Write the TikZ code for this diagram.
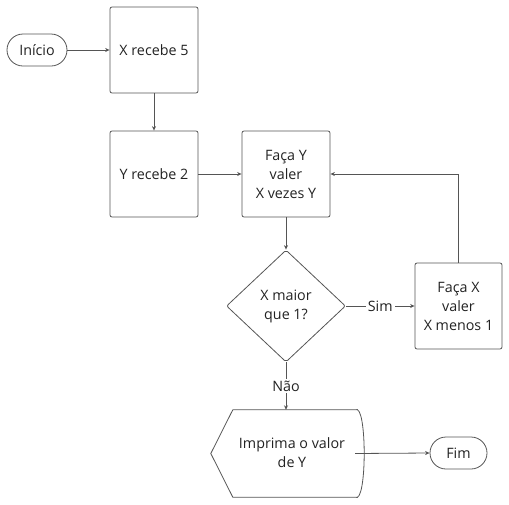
\documentclass[tikz,border=0pt]{standalone}
\usepackage{fontspec}
\setmainfont{Open Sans}
\usetikzlibrary{shapes.geometric,arrows.meta,positioning}
\definecolor{ln}{HTML}{555555}
\definecolor{tx}{HTML}{222222}
\begin{document}
\begin{tikzpicture}[x=1pt,y=-1pt,
  every node/.style={font=\fontsize{14.3}{19}\selectfont, text=tx},
  box/.style={draw=ln, line width=0.8pt, rounded corners=2pt, minimum width=88pt, minimum height=86pt, align=center, inner sep=2pt},
  dec/.style={draw=ln, line width=0.8pt, diamond, minimum width=119pt, minimum height=112pt, align=center, inner sep=0pt, rounded corners=2pt},
  conn/.style={draw=ln, line width=0.8pt, -{Stealth[length=4.5pt,width=4pt]}},
  lbl/.style={fill=white, inner sep=2pt}]
\useasboundingbox (0,0) rectangle (509,504);
\node[draw=ln, line width=0.8pt, rounded corners=16pt, minimum width=60pt, minimum height=32pt] (ini) at (37,50) {Início};
\node[box] (x5) at (154,50) {X recebe 5};
\node[box] (y2) at (154,174) {Y recebe 2};
\node[box] (fy) at (286,174) {Faça Y\\valer\\X vezes Y};
\node[dec] (d) at (286,306) {X maior\\que 1?};
\node[box, minimum width=87pt] (fx) at (458.5,306) {Faça X\\valer\\X menos 1};
\node[minimum width=154pt, minimum height=87pt, inner sep=0pt] (pr) at (288,453.5) {};
\node[align=center] (prt) at (292,453) {Imprima o valor\\de Y};
\draw[ln, line width=0.8pt] (pr.west) -- ([xshift=22pt]pr.north west) -- ([xshift=-10pt]pr.north east)
  .. controls ([xshift=2pt,yshift=8pt]pr.north east) and ([xshift=2pt,yshift=-8pt]pr.south east) .. ([xshift=-10pt]pr.south east)
  -- ([xshift=22pt]pr.south west) -- cycle;
\node[draw=ln, line width=0.8pt, rounded corners=16pt, minimum width=57pt, minimum height=32pt] (fim) at (458.5,453) {Fim};
\coordinate (c1) at (fx.north |- fy.east);
\draw[conn] (ini) -- (x5);
\draw[conn] (x5) -- (y2);
\draw[conn] (y2) -- (fy);
\draw[conn] (fy) -- (d);
\draw[conn] (d.east) -- node[lbl] {Sim} (fx.west);
\draw[conn] (fx.north) -- (c1) -- (fy.east);
\draw[conn] (d.south) -- node[lbl, pos=0.5] {Não} (d.south |- pr.north);
\draw[conn] ([xshift=-10pt]pr.east) -- (fim.west);
\end{tikzpicture}
\end{document}
